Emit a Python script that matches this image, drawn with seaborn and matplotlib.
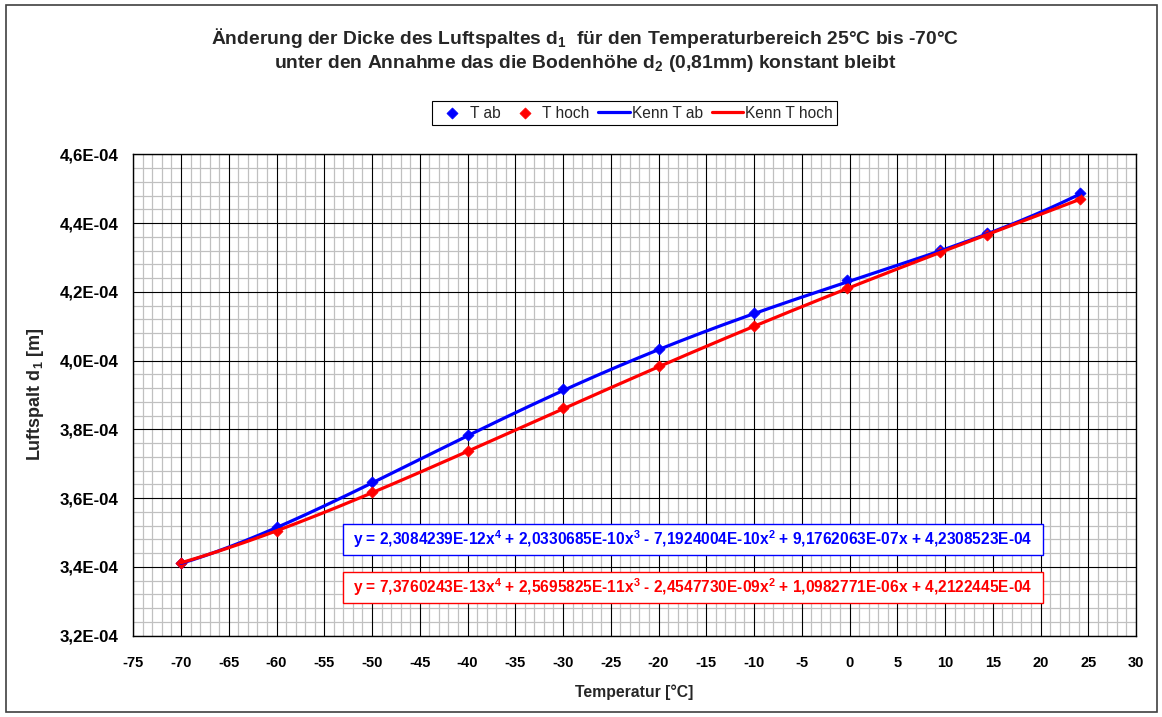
import numpy as np
import pandas as pd
import matplotlib
matplotlib.use("Agg")
import matplotlib.pyplot as plt
import seaborn as sns
from matplotlib.ticker import FixedLocator, MultipleLocator, FuncFormatter
from matplotlib.patches import Rectangle

# Measured air-gap thickness d1 while cooling (T ab) and warming (T hoch)
temperatur = [-70, -60, -50, -40, -30, -20, -10, -0.3, 9.5, 14.4, 24.1]
d1_t_ab = [3.410e-4, 3.516e-4, 3.647e-4, 3.783e-4, 3.916e-4, 4.035e-4,
           4.139e-4, 4.234e-4, 4.323e-4, 4.371e-4, 4.486e-4]
d1_t_hoch = [3.410e-4, 3.505e-4, 3.618e-4, 3.737e-4, 3.861e-4, 3.983e-4,
             4.100e-4, 4.2125e-4, 4.315e-4, 4.366e-4, 4.469e-4]

# 4th-order trend polynomials (highest power first)
kenn_t_ab = [2.3084239e-12, 2.0330685e-10, -7.1924004e-10, 9.1762063e-07, 4.2308523e-04]
kenn_t_hoch = [7.3760243e-13, 2.5695825e-11, -2.4547730e-09, 1.0982771e-06, 4.2122445e-04]

x_ticks = list(range(-75, 31, 5))
y_ticks = [3.2e-4, 3.4e-4, 3.6e-4, 3.8e-4, 4.0e-4, 4.2e-4, 4.4e-4, 4.6e-4]

sns.set_style("white")
plt.rcParams["font.family"] = ["Liberation Sans", "DejaVu Sans"]
plt.rcParams["font.weight"] = "bold"
plt.rcParams["mathtext.fontset"] = "custom"
plt.rcParams["mathtext.rm"] = "Liberation Sans:bold"
plt.rcParams["mathtext.it"] = "Liberation Sans:bold"
plt.rcParams["mathtext.bf"] = "Liberation Sans:bold"

W, H = 1162, 717
fig = plt.figure(figsize=(W / 100, H / 100), dpi=100)
fig.patch.set_facecolor("white")

# chart-area frame
fig.patches.append(Rectangle((6 / W, 5 / H), (1157 - 6) / W, (712 - 5) / H,
                             transform=fig.transFigure, fill=False,
                             edgecolor="#404040", linewidth=1.2))

left, right, top, bottom = 133.3, 1136, 154.3, 635.7
ax = fig.add_axes([left / W, 1 - bottom / H, (right - left) / W, (bottom - top) / H])
ax.set_facecolor("white")

df = pd.DataFrame({"T": temperatur, "ab": d1_t_ab, "hoch": d1_t_hoch})
xs = np.linspace(min(temperatur), max(temperatur), 300)
trend = pd.DataFrame({"T": xs,
                      "ab": np.polyval(kenn_t_ab, xs),
                      "hoch": np.polyval(kenn_t_hoch, xs)})

sns.scatterplot(data=df, x="T", y="ab", marker="D", color="#0000ff", s=32,
                edgecolor="#0000ff", linewidth=0.5, label="T ab", ax=ax, zorder=3)
sns.scatterplot(data=df, x="T", y="hoch", marker="D", color="#ff0000", s=32,
                edgecolor="#ff0000", linewidth=0.5, label="T hoch", ax=ax, zorder=3)
sns.lineplot(data=trend, x="T", y="ab", color="#0000ff", linewidth=2.3,
             label="Kenn T ab", ax=ax, zorder=4)
sns.lineplot(data=trend, x="T", y="hoch", color="#ff0000", linewidth=2.3,
             label="Kenn T hoch", ax=ax, zorder=5)

ax.set_xlim(-75, 30)
ax.set_ylim(3.2e-4, 4.6e-4)
ax.xaxis.set_major_locator(FixedLocator(x_ticks))
ax.yaxis.set_major_locator(FixedLocator(y_ticks))
ax.xaxis.set_minor_locator(MultipleLocator(1))
ax.yaxis.set_minor_locator(MultipleLocator(4e-6))
ax.xaxis.set_major_formatter(FuncFormatter(lambda v, p: f"{v:.0f}"))
ax.yaxis.set_major_formatter(FuncFormatter(lambda v, p: f"{v:.1E}".replace(".", ",")))

# fine grid beneath, coarse grid lines on top of it
ax.set_axisbelow(True)
ax.grid(which="minor", color="#c0c0c0", linewidth=0.9)
ax.grid(which="major", visible=False)
for xv in x_ticks:
    ax.axvline(xv, color="black", linewidth=0.8, zorder=1)
for yv in y_ticks:
    ax.axhline(yv, color="black", linewidth=0.8, zorder=1)

for sp in ax.spines.values():
    sp.set_color("black")
    sp.set_linewidth(1.0)
ax.tick_params(axis="x", which="major", direction="out", length=3.6, width=0.8,
               pad=11, labelsize=10.5, colors="black")
ax.tick_params(axis="y", which="major", direction="out", length=7.5, width=0.8,
               pad=3.3, labelsize=12.2, colors="black")
ax.tick_params(which="minor", length=0)
for lab in ax.get_xticklabels() + ax.get_yticklabels():
    lab.set_fontweight("bold")

ax.set_xlabel("")
ax.set_ylabel("")
fig.text(634 / W, 1 - 692 / H, "Temperatur [°C]", ha="center", va="center",
         fontsize=11.3, fontweight="bold")
fig.text(36 / W, 1 - 394 / H, "Luftspalt d$_1$ [m]", ha="center", va="center",
         rotation=90, fontsize=13, fontweight="bold")

fig.text(585 / W, 1 - 38 / H,
         "Änderung der Dicke des Luftspaltes d$_1$  für den Temperaturbereich 25°C bis -70°C",
         ha="center", va="center", fontsize=13.9, fontweight="bold")
fig.text(585.5 / W, 1 - 64 / H,
         "unter den Annahme das die Bodenhöhe d$_2$ (0,81mm) konstant bleibt",
         ha="center", va="center", fontsize=13.9, fontweight="bold")

handles, labels = ax.get_legend_handles_labels()
leg = fig.legend(handles, labels, loc="center", ncol=4,
                 bbox_to_anchor=(634.5 / W, 1 - 113 / H),
                 prop={"weight": "normal", "size": 11.2}, frameon=True,
                 fancybox=False, edgecolor="black", framealpha=1,
                 borderpad=0.3, handlelength=2.0, handletextpad=0.15,
                 columnspacing=0.55, borderaxespad=0)
leg.get_frame().set_linewidth(0.8)
if ax.get_legend():
    ax.get_legend().remove()


def equation(c):
    def num(v):
        return f"{abs(v):.7E}".replace(".", ",")

    def sign(v):
        return "+" if v >= 0 else "-"

    return (f"y = {num(c[0])}x$^{{4}}$ {sign(c[1])} {num(c[1])}x$^{{3}}$ "
            f"{sign(c[2])} {num(c[2])}x$^{{2}}$ {sign(c[3])} {num(c[3])}x "
            f"{sign(c[4])} {num(c[4])}")


# trend equation labels with tight frames
for coeffs, color, (y0, y1) in [(kenn_t_ab, "#0000ff", (0.1676, 0.2320)),
                                (kenn_t_hoch, "#ff0000", (0.0673, 0.1329))]:
    ax.add_patch(Rectangle((0.2091, y0), 0.9073 - 0.2091, y1 - y0,
                           transform=ax.transAxes, facecolor="white",
                           edgecolor=color, linewidth=1, zorder=6))
    ax.text(0.5582, (y0 + y1) / 2, equation(coeffs), transform=ax.transAxes,
            ha="center", va="center", fontsize=11.2, fontweight="bold",
            color=color, zorder=7)

fig.savefig("out.png", dpi=100, facecolor="white")
